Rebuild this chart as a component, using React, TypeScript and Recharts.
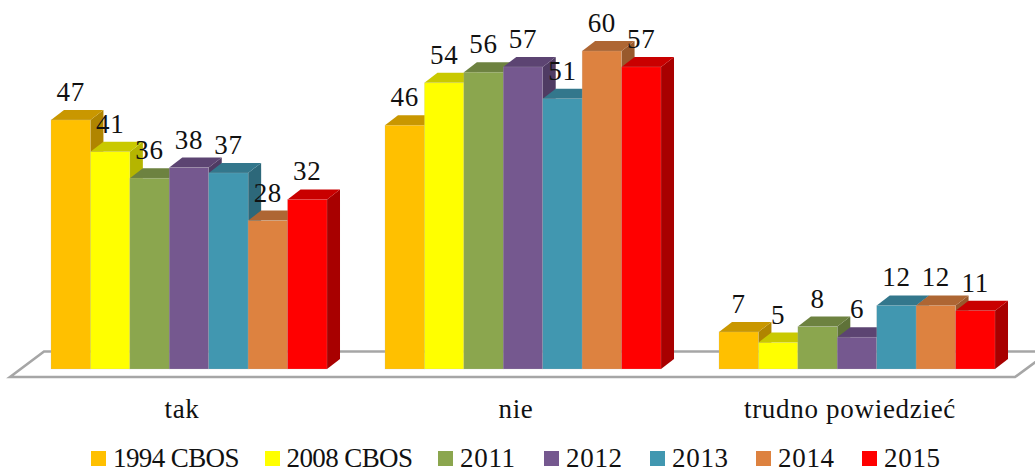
import React from 'react';
import { BarChart, Bar, XAxis, YAxis, Legend, LabelList } from 'recharts';

const categories = ['tak', 'nie', 'trudno powiedzieć'];
const seriesNames = ['1994 CBOS', '2008 CBOS', '2011', '2012', '2013', '2014', '2015'];

const values1994 = [47, 46, 7];
const values2008 = [41, 54, 5];
const values2011 = [36, 56, 8];
const values2012 = [38, 57, 6];
const values2013 = [37, 51, 12];
const values2014 = [28, 60, 12];
const values2015 = [32, 57, 11];
const seriesValues = [values1994, values2008, values2011, values2012, values2013, values2014, values2015];

const FRONT_COLORS = ['#ffc000', '#ffff00', '#8ba64e', '#75588f', '#4197b0', '#dd8240', '#ff0000'];
const TOP_COLORS = ['#c99700', '#c9c900', '#6d8240', '#5c4472', '#33778c', '#ae6633', '#c90000'];
const SIDE_COLORS = ['#b08500', '#b5b500', '#5f7238', '#4f3b63', '#2d687a', '#98592c', '#a80000'];

const chartData = categories.map((name, i) => {
  const row: Record<string, string | number> = { name };
  seriesNames.forEach((s, j) => {
    row[s] = seriesValues[j][i];
  });
  return row;
});

const FONT = '"Liberation Serif", serif';
const FONT_SIZE = 27;
const LETTER_SPACING = 0.7;
const DEPTH_X = 13;
const DEPTH_Y = 10;

// Front, top and side face of one 3D column
const makeBarShape = (index: number) => (props: any) => {
  const { x, y, width, height } = props;
  const right = x + width;
  const bottom = y + height;
  return (
    <g>
      <polygon
        points={`${right},${y} ${right + DEPTH_X},${y - DEPTH_Y} ${right + DEPTH_X},${bottom - DEPTH_Y} ${right},${bottom}`}
        fill={SIDE_COLORS[index]}
      />
      <polygon
        points={`${x},${y} ${x + DEPTH_X},${y - DEPTH_Y} ${right + DEPTH_X},${y - DEPTH_Y} ${right},${y}`}
        fill={TOP_COLORS[index]}
      />
      <rect x={x} y={y} width={width} height={height} fill={FRONT_COLORS[index]} stroke="#b8b8b8" strokeOpacity={0.35} strokeWidth={0.6} />
    </g>
  );
};

const CategoryTick = (props: any) => {
  const { x, y, payload } = props;
  return (
    <text x={x - 7} y={y + 41} textAnchor="middle" fontFamily={FONT} fontSize={FONT_SIZE} letterSpacing={LETTER_SPACING} fill="#111">
      {payload.value}
    </text>
  );
};

const ChartLegend = () => (
  <div style={{ display: 'flex', fontFamily: FONT, fontSize: FONT_SIZE, color: '#111', lineHeight: '20px' }}>
    {seriesNames.map((name, i) => (
      <div key={name} style={{ width: name.length > 4 ? 173.5 : 106, display: 'flex', alignItems: 'center', whiteSpace: 'nowrap' }}>
        <span style={{ width: 15, height: 15, background: FRONT_COLORS[i], marginRight: 7, flex: 'none' }} />
        {/* the long names run narrower in the original face */}
        <span style={{ letterSpacing: name.length > 4 ? -0.6 : LETTER_SPACING }}>{name}</span>
      </div>
    ))}
  </div>
);

export default function App() {
  return (
    <div style={{ position: 'absolute', left: 0, top: 0, width: 1035, height: 469, background: '#fff', overflow: 'hidden' }}>
      {/* floor of the 3D plot */}
      <svg width={1035} height={469} style={{ position: 'absolute', left: 0, top: 0 }}>
        <polygon points="10,377 44,351.5 1050,351.5 1015,377" fill="#fff" stroke="#a6a6a6" strokeWidth={2.6} />
      </svg>
      <BarChart
        width={1035}
        height={469}
        data={chartData}
        margin={{ top: 51, right: 11, bottom: 50, left: 22 }}
        barCategoryGap={29}
        barGap={0}
        style={{ position: 'absolute', left: 0, top: 0 }}
      >
        <XAxis dataKey="name" axisLine={false} tickLine={false} height={30} interval={0} tick={CategoryTick} />
        <YAxis hide domain={[0, 60]} />
        {seriesNames.map((name, i) => (
          <Bar key={name} dataKey={name} barSize={39.43} fill={FRONT_COLORS[i]} isAnimationActive={false} shape={makeBarShape(i)}>
            <LabelList dataKey={name} position="top" offset={19} fontFamily={FONT} fontSize={FONT_SIZE} letterSpacing={LETTER_SPACING} fill="#111" />
          </Bar>
        ))}
        <Legend
          content={<ChartLegend />}
          wrapperStyle={{ position: 'absolute', left: 91, top: 448, width: 944, height: 20, bottom: 'auto' }}
        />
      </BarChart>
    </div>
  );
}
